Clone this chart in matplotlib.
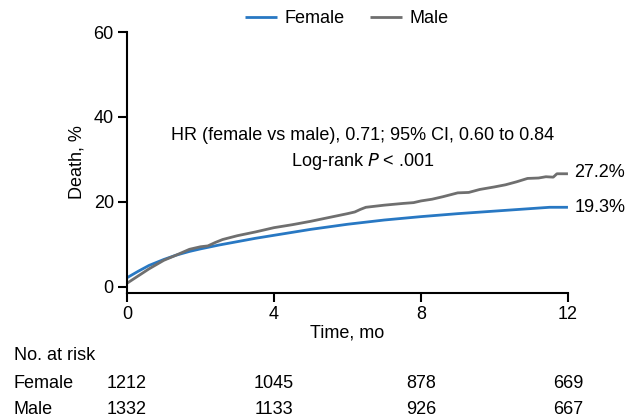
import matplotlib
matplotlib.use('Agg')
from matplotlib import pyplot as plt
from matplotlib import transforms

plt.rcParams['font.family'] = ['Liberation Sans', 'DejaVu Sans']
plt.rcParams['font.size'] = 13

# 累积死亡率曲线 (月, %)
female_t = [0, 0.3, 0.6, 1.0, 1.33, 1.7, 2.0, 2.5, 3.0, 3.5, 4.0, 5.0, 6.0, 7.0, 8.0, 9.0, 10.0, 11.0, 11.5, 12.0]
female_y = [2.1, 3.6, 5.0, 6.4, 7.4, 8.3, 8.9, 9.8, 10.6, 11.4, 12.1, 13.5, 14.7, 15.7, 16.5, 17.2, 17.8, 18.4, 18.7, 18.7]

male_t = [0, 0.3, 0.6, 1.0, 1.33, 1.7, 2.0, 2.2, 2.4, 2.6, 3.0, 3.5, 4.0, 4.5, 5.0, 5.5, 6.0, 6.2, 6.35, 6.5, 7.0, 7.5, 7.8,
          8.0, 8.3, 8.6, 9.0, 9.3, 9.6, 10.0, 10.3, 10.6, 10.9, 11.2, 11.4, 11.6, 11.7, 12.0]
male_y = [0.8, 2.5, 4.2, 6.2, 7.4, 8.8, 9.4, 9.6, 10.4, 11.1, 12.0, 12.9, 13.9, 14.6, 15.4, 16.3, 17.2, 17.6, 18.2, 18.7, 19.2,
          19.6, 19.8, 20.2, 20.6, 21.2, 22.1, 22.2, 22.9, 23.5, 24.0, 24.7, 25.5, 25.6, 25.9, 25.8, 26.6, 26.6]

end_labels = ['19.3%', '27.2%']
risk_times = [0, 4, 8, 12]
female_risk = [1212, 1045, 878, 669]
male_risk = [1332, 1133, 926, 667]

c_female = '#2878c3'
c_male = '#6f6f6f'

fig = plt.figure(figsize=(6.36, 4.18), dpi=100)
ax = fig.add_axes([0.1997, 0.299, 0.6933, 0.6244])

ax.plot(female_t, female_y, color=c_female, lw=2, label='Female', solid_capstyle='butt')
ax.plot(male_t, male_y, color=c_male, lw=2, label='Male', solid_capstyle='butt')

ax.set_xlim(0, 12)
ax.set_ylim(-1.5, 60)
ax.set_xticks([0, 4, 8, 12])
ax.set_yticks([0, 20, 40, 60])
ax.spines['top'].set_visible(False)
ax.spines['right'].set_visible(False)
ax.spines['left'].set_bounds(-1.5, 60)
for s in ['left', 'bottom']:
    ax.spines[s].set_linewidth(1.5)
ax.tick_params(width=1.5, length=6.5, direction='out', labelsize=13, pad=3)
ax.set_ylabel('Death, %', labelpad=6)
ax.set_xlabel('Time, mo', labelpad=1)

# 末端标签
ax.text(12.17, female_y[-1], end_labels[0], va='center', ha='left', clip_on=False)
ax.text(12.17, male_y[-1] + 0.2, end_labels[1], va='center', ha='left', clip_on=False)

ax.text(6.42, 35.5, 'HR (female vs male), 0.71; 95% CI, 0.60 to 0.84', ha='center', va='center')
ax.text(6.42, 29.5, 'Log-rank $\\it{P}$ < .001', ha='center', va='center')

fig.legend(loc='center', bbox_to_anchor=(0.545, 0.955), ncol=2, frameon=False,
           handlelength=1.8, columnspacing=1.4, handletextpad=0.4, fontsize=13)

# 风险人数表
tr = transforms.blended_transform_factory(ax.transData, fig.transFigure)
fig.text(14 / 636, 1 - 355 / 418, 'No. at risk', va='center', ha='left')
fig.text(14 / 636, 1 - 383 / 418, 'Female', va='center', ha='left')
fig.text(14 / 636, 1 - 410 / 418, 'Male', va='center', ha='left')
for t, f, m in zip(risk_times, female_risk, male_risk):
    fig.text(t, 1 - 383 / 418, str(f), va='center', ha='center', transform=tr)
    fig.text(t, 1 - 410 / 418, str(m), va='center', ha='center', transform=tr)

fig.savefig('out.png', dpi=100)
